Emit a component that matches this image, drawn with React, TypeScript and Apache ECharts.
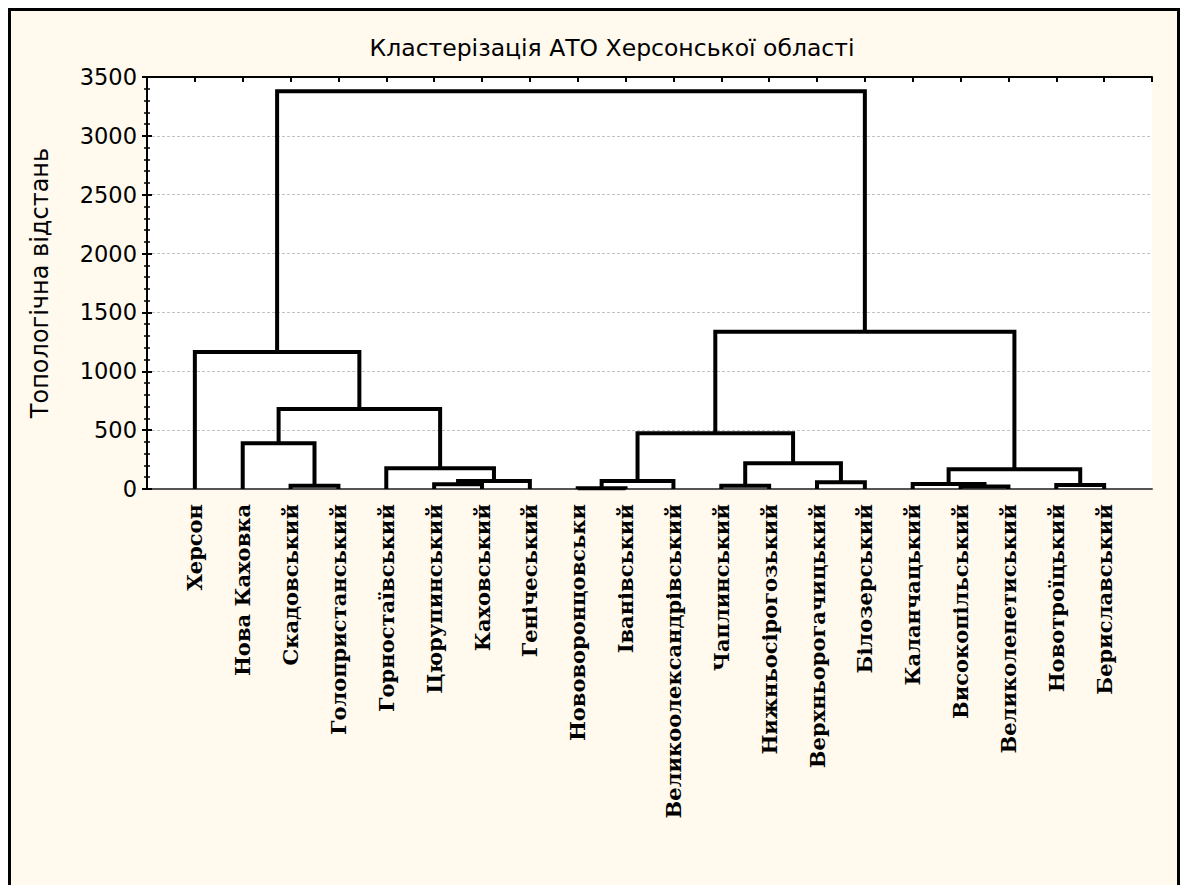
import React, { useEffect, useRef } from 'react';
import * as echarts from 'echarts';

const chartTitle = 'Кластерізація АТО Херсонської області';
const yAxisName = 'Топологічна відстань';
const leafNames = [
  'Херсон', 'Нова Каховка', 'Скадовський', 'Голопристанський', 'Горностаївський',
  'Цюрупинський', 'Каховський', 'Генічеський', 'Нововоронцовськи', 'Іванівський',
  'Великоолександрівський', 'Чаплинський', 'Нижньосірогозький', 'Верхньорогачицький', 'Білозерський',
  'Каланчацький', 'Високопільський', 'Великолепетиський', 'Новотроїцький', 'Бериславський',
];
// merges: ids 0..19 are leaves, merge k creates cluster id 20+k
const mergeLeft = [2, 5, 21, 4, 1, 24, 0, 8, 27, 11, 13, 29, 28, 16, 15, 18, 34, 32, 26];
const mergeRight = [3, 6, 7, 22, 20, 23, 25, 9, 10, 12, 14, 30, 31, 17, 33, 19, 35, 36, 37];
const mergeHeights = [28, 40, 68, 176, 388, 680, 1163, 6, 68, 28, 57, 218, 473, 22, 42, 34, 167, 1335, 3380];
const yMin = 0;
const yMax = 3500;
const yStep = 500;

const sansFont = '"DejaVu Sans", "Liberation Sans", Arial, sans-serif';
const serifFont = '"DejaVu Serif", "Liberation Serif", "Times New Roman", serif';

function buildLinks() {
  const pos: number[] = leafNames.map((_, i) => i + 1);
  const hgt: number[] = leafNames.map(() => 0);
  const data: { coords: number[][] }[] = [];
  mergeHeights.forEach((H, k) => {
    const l = mergeLeft[k];
    const r = mergeRight[k];
    const xl = pos[l];
    const xr = pos[r];
    data.push({ coords: [[xl, hgt[l]], [xl, H], [xr, H], [xr, hgt[r]]] });
    pos[leafNames.length + k] = (xl + xr) / 2;
    hgt[leafNames.length + k] = H;
  });
  return data;
}

export default function App() {
  const ref = useRef<HTMLDivElement>(null);
  useEffect(() => {
    if (!ref.current) return;
    const chart = echarts.init(ref.current, null, { renderer: 'svg' });
    const xMax = leafNames.length + 1;
    const option: any = {
      animation: false,
      backgroundColor: 'transparent',
      title: {
        text: chartTitle,
        left: 601,
        top: 25,
        padding: 0,
        textAlign: 'center',
        textStyle: { fontFamily: sansFont, fontSize: 23.5, fontWeight: 'normal', color: '#000' },
      },
      grid: {
        left: 136,
        top: 66,
        right: 25,
        bottom: 396,
        show: true,
        backgroundColor: '#ffffff',
        borderWidth: 0,
      },
      xAxis: [
        {
          type: 'value',
          position: 'bottom',
          min: 0,
          max: xMax,
          interval: 1,
          splitLine: { show: false },
          axisLine: { show: true, onZero: false, lineStyle: { color: '#555', width: 2 } },
          axisTick: { show: false },
          axisLabel: {
            rotate: 90,
            margin: 15,
            showMinLabel: false,
            showMaxLabel: false,
            fontFamily: serifFont,
            fontWeight: 'bold',
            fontSize: 21,
            color: '#000',
            formatter: (v: number) => leafNames[v - 1] || '',
          },
        },
        {
          type: 'value',
          position: 'top',
          min: 0,
          max: xMax,
          interval: 1,
          splitLine: { show: false },
          axisLine: { show: true, onZero: false, lineStyle: { color: '#000', width: 2 } },
          axisTick: { show: true, inside: true, length: 5, lineStyle: { color: '#000', width: 2 } },
          axisLabel: { show: false },
        },
      ],
      yAxis: [
        {
          type: 'value',
          position: 'left',
          min: yMin,
          max: yMax,
          interval: yStep,
          name: yAxisName,
          nameLocation: 'middle',
          nameGap: 95,
          nameTextStyle: { fontFamily: sansFont, fontSize: 24, color: '#000' },
          axisLine: { show: true, lineStyle: { color: '#000', width: 2 } },
          axisTick: { show: true, inside: true, length: 5, lineStyle: { color: '#000', width: 2 } },
          minorTick: { show: true, splitNumber: 5, length: 3, lineStyle: { color: '#000', width: 1.5 } },
          splitLine: { show: true, lineStyle: { color: '#c4c4c4', width: 1, type: [3, 2] } },
          axisLabel: {
            margin: 10,
            fontFamily: sansFont,
            fontSize: 22.5,
            color: '#000',
            formatter: (v: number) => String(v),
          },
        },
        {
          type: 'value',
          position: 'right',
          min: yMin,
          max: yMax,
          interval: yStep,
          axisLine: { show: true, lineStyle: { color: '#000', width: 2 } },
          axisTick: { show: true, inside: true, length: 5, lineStyle: { color: '#000', width: 2 } },
          minorTick: { show: true, splitNumber: 5, length: 3, lineStyle: { color: '#000', width: 1.5 } },
          splitLine: { show: false },
          axisLabel: { show: false },
        },
      ],
      series: [
        {
          type: 'lines',
          coordinateSystem: 'cartesian2d',
          xAxisIndex: 0,
          yAxisIndex: 0,
          polyline: true,
          silent: true,
          lineStyle: { color: '#000', width: 4, opacity: 1, join: 'miter', cap: 'butt' },
          data: buildLinks(),
        },
      ],
    };
    chart.setOption(option);
    return () => chart.dispose();
  }, []);
  return (
    <div
      style={{
        width: 1172,
        height: 877,
        boxSizing: 'border-box',
        border: '3px solid #000',
        borderBottom: 'none',
        background: '#FFF9EE',
      }}
    >
      <div ref={ref} style={{ width: '100%', height: '100%' }} />
    </div>
  );
}
